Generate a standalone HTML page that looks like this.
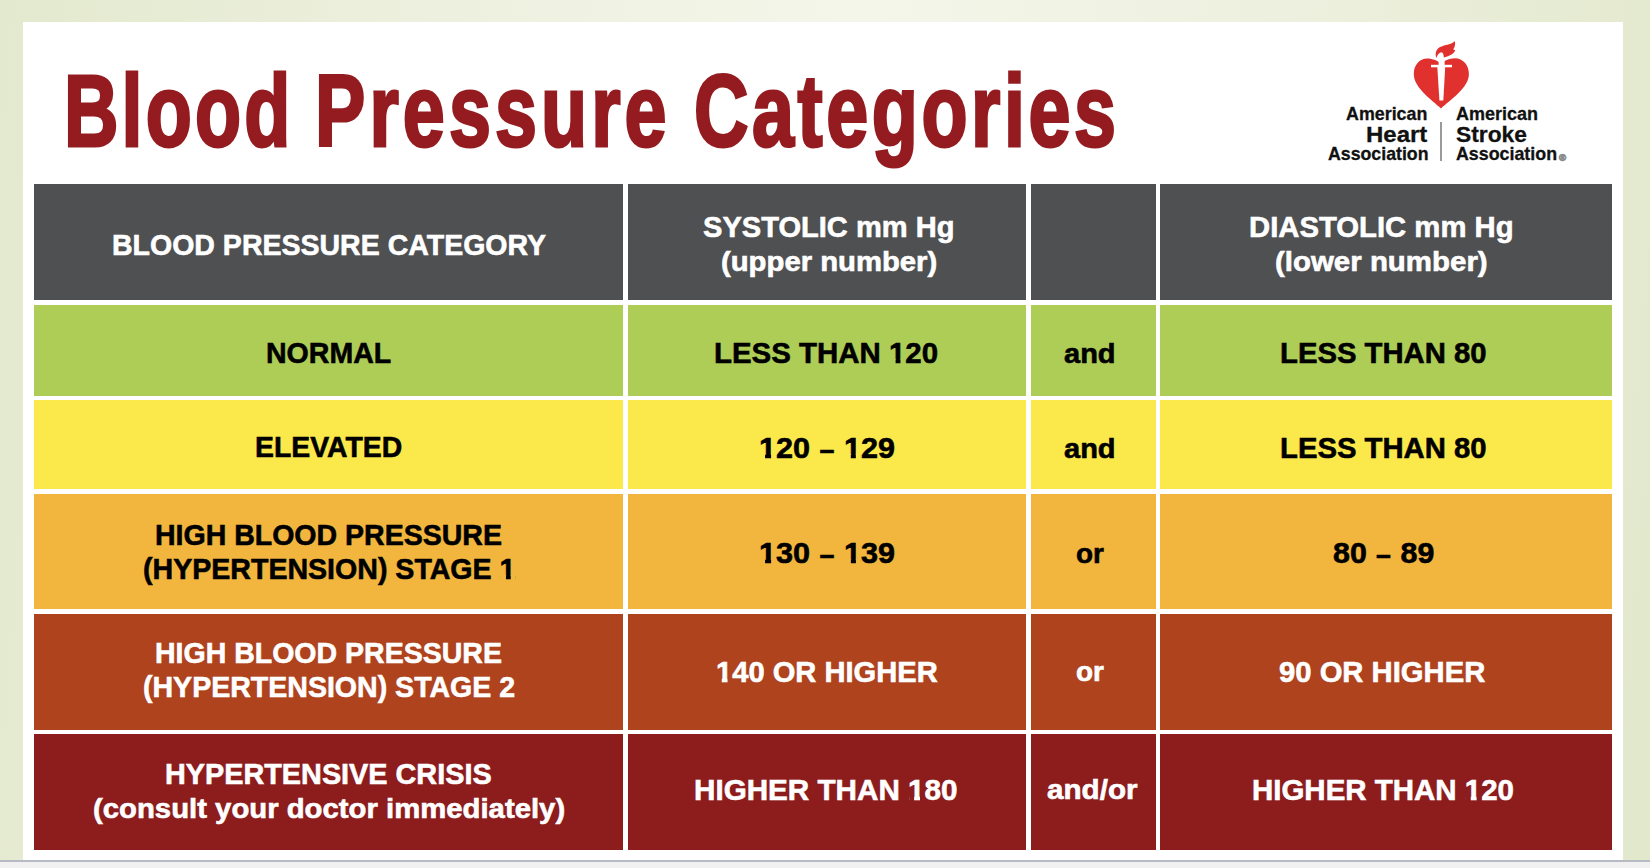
<!DOCTYPE html>
<html>
<head>
<meta charset="utf-8">
<title>Blood Pressure Categories</title>
<style>
html,body{margin:0;padding:0;}
body{width:1650px;height:868px;position:relative;overflow:hidden;
  background:linear-gradient(95deg,#e3e9ce 0%,#edf0de 25%,#f4f6ea 50%,#edf0de 75%,#e2e8cc 100%);
  font-family:"Liberation Sans",Arial,sans-serif;}
.strip{position:absolute;left:0;top:860px;width:1650px;height:8px;background:#f1f1f1;border-top:2px solid #b6bac5;box-sizing:border-box;}
.panel{position:absolute;left:23px;top:22px;width:1600px;height:838px;background:#fff;}
.b{position:absolute;}
.hd{background:#4f5052;}
.g{background:#aecd57;}
.y{background:#fbe94c;}
.o{background:#f2b63e;}
.r{background:#ae431e;}
.d{background:#8d1c1d;}
.c1{left:34px;width:589px;}
.c2{left:628px;width:398px;}
.c3{left:1031px;width:125px;}
.c4{left:1160px;width:452px;}
.h0{top:184px;height:116px;}
.h1{top:305px;height:91px;}
.h2{top:400px;height:89px;}
.h3{top:494px;height:115px;}
.h4{top:614px;height:116px;}
.h5{top:734px;height:116px;}
.one{position:relative;}
.dash{display:inline-block;transform:scaleX(0.88) translateY(1.5px);}
.one i{position:absolute;display:block;}
.t{position:absolute;white-space:nowrap;font-weight:700;transform-origin:0 0;font-family:"Liberation Sans",Arial,sans-serif;}
</style>
</head>
<body>
<div class="strip"></div>
<div class="panel"></div>

<!-- logo mark -->
<svg style="position:absolute;left:1400px;top:35px" width="80" height="80" viewBox="1400 35 80 80">
  <path fill="#e0312f" d="M1441,108.5 C1432,100 1413.8,88 1413.8,74 C1413.8,65 1419.5,58.5 1427,58.5 C1433,58.5 1438,61 1441,63.5 C1444,61 1449,58.2 1455,58.2 C1463,58.2 1468.9,65 1468.9,74 C1468.9,88 1450,100 1441,108.5 Z"/>
  <rect x="1438.6" y="55" width="6" height="10" fill="#fff"/>
  <rect x="1431" y="64.8" width="21" height="2.5" fill="#fff"/>
  <polygon points="1437.3,67 1445.2,67 1443.3,100.6 1439.4,100.6" fill="#fff"/>
  <path fill="#e0312f" d="M1436.4,58 C1435,55 1435.5,51 1438,48.5 C1441,46 1447,45 1450.5,43.8 C1452.5,43 1454,42 1454.6,41 C1455.6,43 1455.2,46.5 1453.2,49.6 L1455.2,50.3 C1454.5,53 1451,55.5 1443.8,57.6 C1443.8,55 1443.2,52.5 1441.4,52.3 C1439.5,52.3 1437.6,54.5 1436.4,58 Z"/>
</svg>
<div class="b" style="left:1440.2px;top:122px;width:2px;height:38.5px;background:#9a9a9a;"></div>
<div class="b" style="left:1558.9px;top:152.6px;font:bold 9.5px/9.5px 'Liberation Sans',Arial,sans-serif;color:#888;-webkit-text-stroke:0.9px #8c8c8c;white-space:nowrap;">&reg;</div>

<!-- table cells -->
<div class="b hd c1 h0"></div><div class="b hd c2 h0"></div><div class="b hd c3 h0"></div><div class="b hd c4 h0"></div>
<div class="b g c1 h1"></div><div class="b g c2 h1"></div><div class="b g c3 h1"></div><div class="b g c4 h1"></div>
<div class="b y c1 h2"></div><div class="b y c2 h2"></div><div class="b y c3 h2"></div><div class="b y c4 h2"></div>
<div class="b o c1 h3"></div><div class="b o c2 h3"></div><div class="b o c3 h3"></div><div class="b o c4 h3"></div>
<div class="b r c1 h4"></div><div class="b r c2 h4"></div><div class="b r c3 h4"></div><div class="b r c4 h4"></div>
<div class="b d c1 h5"></div><div class="b d c2 h5"></div><div class="b d c3 h5"></div><div class="b d c4 h5"></div>

<div class="t" style="left:111.68px;top:230.00px;font-size:30.0px;line-height:30.0px;color:#fff;-webkit-text-stroke:0.6px #fff;transform:scaleX(0.9504)">BLOOD PRESSURE CATEGORY</div>
<div class="t" style="left:703.39px;top:212.40px;font-size:30.0px;line-height:30.0px;color:#fff;-webkit-text-stroke:0.6px #fff;transform:scaleX(0.9692)">SYSTOLIC mm Hg</div>
<div class="t" style="left:720.65px;top:247.60px;font-size:27.5px;line-height:27.5px;color:#fff;-webkit-text-stroke:0.6px #fff;transform:scaleX(1.0643)">(upper number)</div>
<div class="t" style="left:1249.24px;top:212.40px;font-size:30.0px;line-height:30.0px;color:#fff;-webkit-text-stroke:0.6px #fff;transform:scaleX(0.9758)">DIASTOLIC mm Hg</div>
<div class="t" style="left:1275.25px;top:247.60px;font-size:27.5px;line-height:27.5px;color:#fff;-webkit-text-stroke:0.6px #fff;transform:scaleX(1.0707)">(lower number)</div>
<div class="t" style="left:265.70px;top:337.70px;font-size:30.3px;line-height:30.3px;color:#000;-webkit-text-stroke:0.6px #000;transform:scaleX(0.9424)">NORMAL</div>
<div class="t" style="left:714.15px;top:338.00px;font-size:30.3px;line-height:30.3px;color:#000;-webkit-text-stroke:0.6px #000;transform:scaleX(0.9711)">LESS THAN <span class="one">1<i style="left:0.71px;width:5.76px;bottom:4.40px;height:5.29px;background:#aecd57"></i><i style="left:11.83px;width:5.38px;bottom:4.40px;height:5.29px;background:#aecd57"></i></span>20</div>
<div class="t" style="left:1064.42px;top:339.70px;font-size:27.5px;line-height:27.5px;color:#000;-webkit-text-stroke:0.6px #000;transform:scaleX(1.0547)">and</div>
<div class="t" style="left:1279.76px;top:338.10px;font-size:30.3px;line-height:30.3px;color:#000;-webkit-text-stroke:0.6px #000;transform:scaleX(0.9662)">LESS THAN 80</div>
<div class="t" style="left:254.81px;top:432.30px;font-size:30.3px;line-height:30.3px;color:#000;-webkit-text-stroke:0.6px #000;transform:scaleX(0.9365)">ELEVATED</div>
<div class="t" style="left:759.19px;top:432.70px;font-size:30.3px;line-height:30.3px;color:#000;-webkit-text-stroke:0.6px #000;transform:scaleX(1.0087)"><span class="one">1<i style="left:0.71px;width:5.76px;bottom:4.40px;height:5.29px;background:#fbe94c"></i><i style="left:11.83px;width:5.38px;bottom:4.40px;height:5.29px;background:#fbe94c"></i></span>20 <span class="dash">–</span> <span class="one">1<i style="left:0.71px;width:5.76px;bottom:4.40px;height:5.29px;background:#fbe94c"></i><i style="left:11.83px;width:5.38px;bottom:4.40px;height:5.29px;background:#fbe94c"></i></span>29</div>
<div class="t" style="left:1064.42px;top:434.50px;font-size:27.5px;line-height:27.5px;color:#000;-webkit-text-stroke:0.6px #000;transform:scaleX(1.0547)">and</div>
<div class="t" style="left:1279.76px;top:432.50px;font-size:30.3px;line-height:30.3px;color:#000;-webkit-text-stroke:0.6px #000;transform:scaleX(0.9662)">LESS THAN 80</div>
<div class="t" style="left:154.60px;top:520.30px;font-size:30.3px;line-height:30.3px;color:#000;-webkit-text-stroke:0.6px #000;transform:scaleX(0.9410)">HIGH BLOOD PRESSURE</div>
<div class="t" style="left:142.64px;top:553.80px;font-size:30.3px;line-height:30.3px;color:#000;-webkit-text-stroke:0.6px #000;transform:scaleX(0.9429)">(HYPERTENSION) STAGE <span class="one">1<i style="left:0.71px;width:5.76px;bottom:4.40px;height:5.29px;background:#f2b63e"></i><i style="left:11.83px;width:5.38px;bottom:4.40px;height:5.29px;background:#f2b63e"></i></span></div>
<div class="t" style="left:759.39px;top:538.10px;font-size:30.3px;line-height:30.3px;color:#000;-webkit-text-stroke:0.6px #000;transform:scaleX(1.0095)"><span class="one">1<i style="left:0.71px;width:5.76px;bottom:4.40px;height:5.29px;background:#f2b63e"></i><i style="left:11.83px;width:5.38px;bottom:4.40px;height:5.29px;background:#f2b63e"></i></span>30 <span class="dash">–</span> <span class="one">1<i style="left:0.71px;width:5.76px;bottom:4.40px;height:5.29px;background:#f2b63e"></i><i style="left:11.83px;width:5.38px;bottom:4.40px;height:5.29px;background:#f2b63e"></i></span>39</div>
<div class="t" style="left:1075.59px;top:539.80px;font-size:27.5px;line-height:27.5px;color:#000;-webkit-text-stroke:0.6px #000;transform:scaleX(1.0147)">or</div>
<div class="t" style="left:1332.60px;top:537.90px;font-size:30.3px;line-height:30.3px;color:#000;-webkit-text-stroke:0.6px #000;transform:scaleX(1.0016)">80 <span class="dash">–</span> 89</div>
<div class="t" style="left:154.60px;top:637.60px;font-size:30.3px;line-height:30.3px;color:#fff;-webkit-text-stroke:0.6px #fff;transform:scaleX(0.9410)">HIGH BLOOD PRESSURE</div>
<div class="t" style="left:142.64px;top:672.10px;font-size:30.3px;line-height:30.3px;color:#fff;-webkit-text-stroke:0.6px #fff;transform:scaleX(0.9419)">(HYPERTENSION) STAGE 2</div>
<div class="t" style="left:716.33px;top:656.50px;font-size:30.3px;line-height:30.3px;color:#fff;-webkit-text-stroke:0.6px #fff;transform:scaleX(0.9610)"><span class="one">1<i style="left:0.71px;width:5.76px;bottom:4.40px;height:5.29px;background:#ae431e"></i><i style="left:11.83px;width:5.38px;bottom:4.40px;height:5.29px;background:#ae431e"></i></span>40 OR HIGHER</div>
<div class="t" style="left:1075.59px;top:658.20px;font-size:27.5px;line-height:27.5px;color:#fff;-webkit-text-stroke:0.6px #fff;transform:scaleX(1.0147)">or</div>
<div class="t" style="left:1279.12px;top:656.50px;font-size:30.3px;line-height:30.3px;color:#fff;-webkit-text-stroke:0.6px #fff;transform:scaleX(0.9647)">90 OR HIGHER</div>
<div class="t" style="left:165.38px;top:759.30px;font-size:30.3px;line-height:30.3px;color:#fff;-webkit-text-stroke:0.6px #fff;transform:scaleX(0.9510)">HYPERTENSIVE CRISIS</div>
<div class="t" style="left:92.95px;top:795.40px;font-size:27.5px;line-height:27.5px;color:#fff;-webkit-text-stroke:0.6px #fff;transform:scaleX(1.0655)">(consult your doctor immediately)</div>
<div class="t" style="left:694.34px;top:774.70px;font-size:30.3px;line-height:30.3px;color:#fff;-webkit-text-stroke:0.6px #fff;transform:scaleX(0.9783)">HIGHER THAN <span class="one">1<i style="left:0.71px;width:5.76px;bottom:4.40px;height:5.29px;background:#8d1c1d"></i><i style="left:11.83px;width:5.38px;bottom:4.40px;height:5.29px;background:#8d1c1d"></i></span>80</div>
<div class="t" style="left:1047.02px;top:776.40px;font-size:27.5px;line-height:27.5px;color:#fff;-webkit-text-stroke:0.6px #fff;transform:scaleX(1.0774)">and/or</div>
<div class="t" style="left:1251.95px;top:774.70px;font-size:30.3px;line-height:30.3px;color:#fff;-webkit-text-stroke:0.6px #fff;transform:scaleX(0.9723)">HIGHER THAN <span class="one">1<i style="left:0.71px;width:5.76px;bottom:4.40px;height:5.29px;background:#8d1c1d"></i><i style="left:11.83px;width:5.38px;bottom:4.40px;height:5.29px;background:#8d1c1d"></i></span>20</div>
<div class="t" style="left:64.39px;top:60.00px;font-size:102.6px;line-height:102.6px;color:#941b1f;-webkit-text-stroke:3.0px #941b1f;letter-spacing:4.291px;transform:scaleX(0.7350)">Blood</div>
<div class="t" style="left:314.69px;top:60.00px;font-size:102.6px;line-height:102.6px;color:#941b1f;-webkit-text-stroke:3.0px #941b1f;letter-spacing:5.589px;transform:scaleX(0.7350)">Pressure</div>
<div class="t" style="left:693.96px;top:60.00px;font-size:102.6px;line-height:102.6px;color:#941b1f;-webkit-text-stroke:3.0px #941b1f;letter-spacing:4.865px;transform:scaleX(0.7350)">Categories</div>
<div class="t" style="left:1346.14px;top:105.05px;font-size:18.6px;line-height:18.6px;color:#111;-webkit-text-stroke:0.3px #111;transform:scaleX(0.9600)">American</div>
<div class="t" style="left:1366.11px;top:122.75px;font-size:22.8px;line-height:22.8px;color:#111;-webkit-text-stroke:0.3px #111;transform:scaleX(1.0519)">Heart</div>
<div class="t" style="left:1327.55px;top:146.15px;font-size:17.9px;line-height:17.9px;color:#111;-webkit-text-stroke:0.3px #111;transform:scaleX(0.9913)">Association</div>
<div class="t" style="left:1455.85px;top:105.05px;font-size:18.6px;line-height:18.6px;color:#111;-webkit-text-stroke:0.3px #111;transform:scaleX(0.9671)">American</div>
<div class="t" style="left:1456.25px;top:122.75px;font-size:22.8px;line-height:22.8px;color:#111;-webkit-text-stroke:0.3px #111;transform:scaleX(1.0004)">Stroke</div>
<div class="t" style="left:1455.85px;top:146.15px;font-size:17.9px;line-height:17.9px;color:#111;-webkit-text-stroke:0.3px #111;transform:scaleX(0.9963)">Association</div>
</body>
</html>
